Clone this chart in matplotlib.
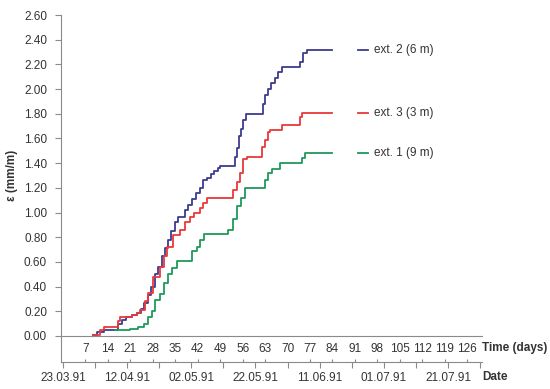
import numpy as np
import matplotlib
matplotlib.use("Agg")
import matplotlib.pyplot as plt
from matplotlib.ticker import FixedLocator, FuncFormatter

plt.rcParams['font.family'] = ['Liberation Sans', 'DejaVu Sans']

# ext. 2 (6 m) - blue
days_ext2 = [9.4, 10.6, 12.8, 17.1, 18.4, 19.6, 21.5, 23.0, 24.3, 25.3, 26.5, 27.4,
             28.7, 29.6, 30.9, 31.8, 32.7, 33.7, 35.0, 35.8, 38.0, 39.0, 40.2, 41.5,
             42.7, 43.6, 45.0, 46.2, 47.1, 48.3, 49.0, 53.6, 54.2, 54.9, 55.5, 56.1,
             56.9, 62.3, 63.0, 63.9, 64.8, 66.1, 67.0, 68.3, 73.9, 74.8, 76.0, 84.0]
eps_ext2 = [0.01, 0.03, 0.05, 0.10, 0.13, 0.15, 0.17, 0.19, 0.22, 0.27, 0.33, 0.40,
            0.50, 0.56, 0.65, 0.71, 0.78, 0.85, 0.92, 0.96, 1.02, 1.06, 1.11, 1.16,
            1.20, 1.26, 1.28, 1.31, 1.34, 1.36, 1.38, 1.45, 1.52, 1.62, 1.68, 1.75,
            1.80, 1.88, 1.95, 2.00, 2.05, 2.09, 2.14, 2.18, 2.22, 2.29, 2.32, 2.32]

# ext. 3 (3 m) - red
days_ext3 = [9.4, 11.5, 12.8, 17.1, 17.8, 21.5, 23.0, 24.0, 25.6, 26.5, 28.0, 30.2,
             31.5, 32.4, 34.3, 36.5, 38.0, 39.6, 41.0, 42.7, 43.6, 44.9, 53.0, 54.2,
             55.2, 56.1, 57.4, 62.0, 63.0, 63.9, 64.5, 68.3, 73.9, 74.5, 84.0]
eps_ext3 = [0.01, 0.05, 0.07, 0.12, 0.15, 0.17, 0.19, 0.21, 0.28, 0.35, 0.48, 0.56,
            0.65, 0.72, 0.82, 0.86, 0.92, 0.96, 1.00, 1.04, 1.08, 1.12, 1.18, 1.25,
            1.32, 1.43, 1.45, 1.53, 1.59, 1.65, 1.67, 1.71, 1.77, 1.81, 1.81]

# ext. 1 (9 m) - green
days_ext1 = [16.2, 20.9, 23.4, 25.2, 26.5, 27.7, 28.7, 30.2, 31.5, 32.7, 34.0, 35.5,
             40.2, 41.8, 42.7, 44.0, 51.4, 53.0, 54.2, 55.5, 56.7, 63.0, 63.9, 65.1,
             67.6, 74.5, 75.4, 84.0]
eps_ext1 = [0.05, 0.06, 0.07, 0.10, 0.15, 0.20, 0.29, 0.34, 0.43, 0.50, 0.55, 0.61,
            0.69, 0.72, 0.78, 0.83, 0.86, 0.95, 1.05, 1.12, 1.20, 1.26, 1.32, 1.35,
            1.40, 1.44, 1.48, 1.48]

series_labels = ['ext. 2 (6 m)', 'ext. 3 (3 m)', 'ext. 1 (9 m)']
colors = ['#3b3b8f', '#e8393c', '#1f9a5c']

time_ticks = list(range(7, 127, 7))
date_ticks = list(range(0, 131, 10))
date_labels = {0: '23.03.91', 20: '12.04.91', 40: '02.05.91', 60: '22.05.91',
               80: '11.06.91', 100: '01.07.91', 120: '21.07.91'}
y_ticks = np.arange(0, 2.61, 0.2)

axis_col = '#8a8a8a'
text_col = '#333333'
fs = 8.5

fig = plt.figure(figsize=(5.5, 3.89), dpi=100)
ax = fig.add_axes([61 / 550, 53 / 389, 421 / 550, 321 / 389])

all_days = [days_ext2, days_ext3, days_ext1]
all_eps = [eps_ext2, eps_ext3, eps_ext1]
for d, e, c, lab in zip(all_days, all_eps, colors, series_labels):
    ax.plot(d, e, drawstyle='steps-post', color=c, lw=1.3)
    # label next to the end value
    ax.plot([92, 95.1], [e[-1], e[-1]], color=c, lw=1.3)
    ax.text(96.9, e[-1], lab, fontsize=fs, color=text_col, va='center', ha='left')

ax.set_xlim(-0.6, 130.6)
ax.set_ylim(0, 2.6)

for s in ['top', 'right']:
    ax.spines[s].set_visible(False)
ax.spines['left'].set_color(axis_col)
ax.spines['bottom'].set_color(axis_col)
ax.spines['left'].set_bounds(-26 / 123.5, 2.6)

ax.set_yticks(y_ticks)
ax.yaxis.set_major_formatter(FuncFormatter(lambda v, p: '%.2f' % v))
ax.tick_params(axis='y', direction='out', length=4.5, width=0.8, color=axis_col,
               labelsize=fs, labelcolor=text_col, pad=5.5)

ax.set_xticks(time_ticks)
ax.tick_params(axis='x', length=0, labelsize=fs, labelcolor=text_col, pad=5)

ax.set_ylabel('\u03b5 (mm/m)', fontsize=fs, fontweight='bold', color=text_col)
ax.yaxis.set_label_coords(-0.102, 0.5)

ax.text(1.0, -12 / 321, 'Time (days)', transform=ax.transAxes, fontsize=fs,
        fontweight='bold', color=text_col, ha='left', va='center')

# date axis below
sec = ax.secondary_xaxis(-26 / 321)
sec.spines['bottom'].set_color(axis_col)
sec.xaxis.set_major_locator(FixedLocator(date_ticks))
sec.xaxis.set_major_formatter(FuncFormatter(lambda v, p: date_labels.get(int(round(v)), '')))
sec.xaxis.set_minor_locator(FixedLocator(time_ticks))
sec.tick_params(axis='x', which='major', direction='out', length=4, width=0.8,
                color=axis_col, labelsize=fs, labelcolor=text_col, pad=3)
sec.tick_params(axis='x', which='minor', direction='in', length=2.5, width=0.8,
                color=axis_col)
ax.text(1.0, -41 / 321, 'Date', transform=ax.transAxes, fontsize=fs,
        fontweight='bold', color=text_col, ha='left', va='center')

fig.savefig('out.png', dpi=100)
